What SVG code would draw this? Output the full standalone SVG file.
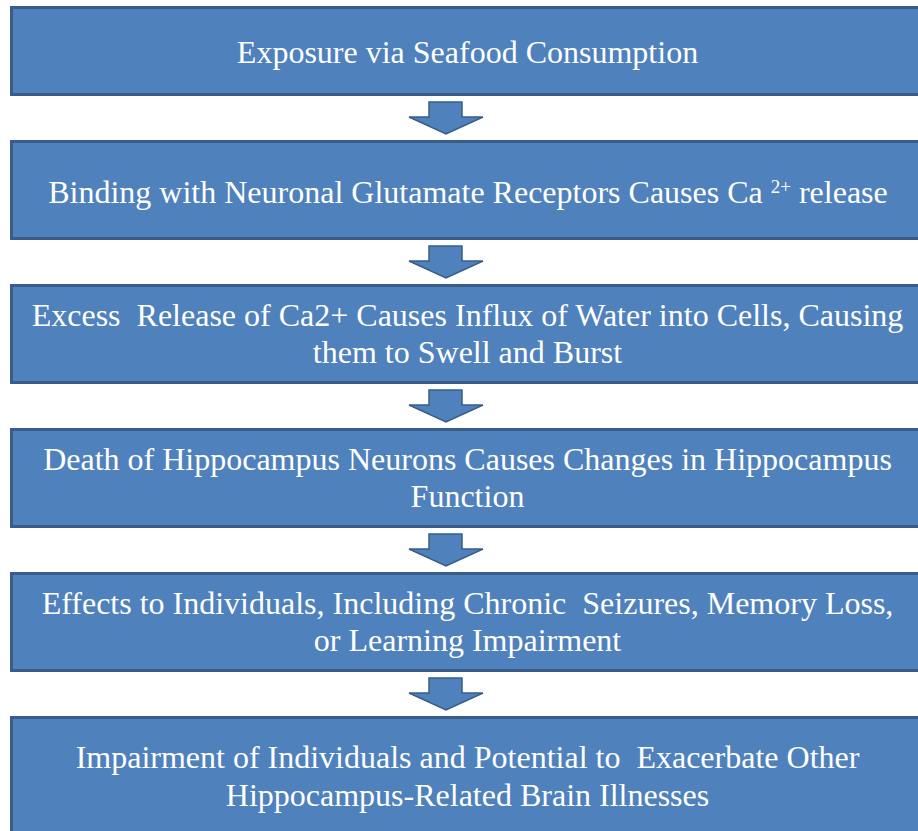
<svg xmlns="http://www.w3.org/2000/svg" width="918" height="831" viewBox="0 0 918 831">
<style>
.box{fill:#4F81BD;stroke:#385D8A;stroke-width:3}
.arr{fill:#4F81BD;stroke:#385D8A;stroke-width:1.5;stroke-linejoin:miter}
text{font-family:'Liberation Serif','Times New Roman',serif;font-size:32px;fill:#FFFFFF;text-anchor:middle}
.sup{font-size:19px}
</style>
<rect width="918" height="831" fill="#FFFFFF"/>
<g id="connectors">
<polygon class="arr" points="429,102 462,102 462,117 483,117 446,134 409,117 429,117"/>
<polygon class="arr" points="429,246 462,246 462,261 483,261 446,278 409,261 429,261"/>
<polygon class="arr" points="429,390 462,390 462,405 483,405 446,422 409,405 429,405"/>
<polygon class="arr" points="429,534 462,534 462,549 483,549 446,566 409,549 429,549"/>
<polygon class="arr" points="429,678 462,678 462,693 483,693 446,710 409,693 429,693"/>
</g>
<g id="node1">
<rect class="box" x="11.5" y="7.5" width="913" height="87"/>
<text x="467.5" y="63">Exposure via Seafood Consumption</text>
</g>
<g id="node2">
<rect class="box" x="11.5" y="141.5" width="913" height="97"/>
<text x="468" y="203">Binding with Neuronal Glutamate Receptors Causes Ca <tspan class="sup" dy="-10">2+</tspan><tspan dy="10"> release</tspan></text>
</g>
<g id="node3">
<rect class="box" x="11.5" y="285.5" width="913" height="97"/>
<text x="467.5" y="326" xml:space="preserve">Excess  Release of Ca2+ Causes Influx of Water into Cells, Causing</text>
<text x="467.5" y="363">them to Swell and Burst</text>
</g>
<g id="node4">
<rect class="box" x="11.5" y="429.5" width="913" height="97"/>
<text x="467.5" y="470">Death of Hippocampus Neurons Causes Changes in Hippocampus</text>
<text x="467.5" y="507">Function</text>
</g>
<g id="node5">
<rect class="box" x="11.5" y="573.5" width="913" height="97"/>
<text x="467.5" y="614" xml:space="preserve">Effects to Individuals, Including Chronic  Seizures, Memory Loss,</text>
<text x="467.5" y="651">or Learning Impairment</text>
</g>
<g id="node6">
<rect class="box" x="11.5" y="717.5" width="913" height="125"/>
<text x="467.5" y="768" xml:space="preserve">Impairment of Individuals and Potential to  Exacerbate Other</text>
<text x="467.5" y="806">Hippocampus-Related Brain Illnesses</text>
</g>
</svg>
